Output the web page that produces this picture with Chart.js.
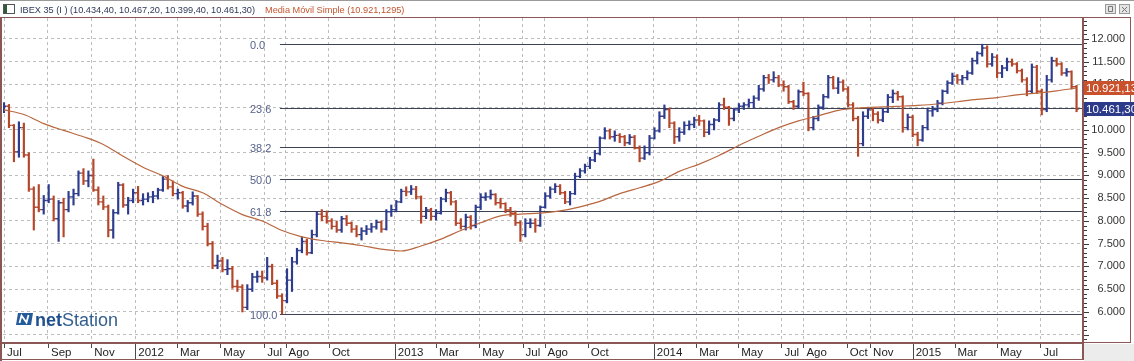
<!DOCTYPE html>
<html>
<head>
<meta charset="utf-8">
<script src="https://cdn.jsdelivr.net/npm/chart.js@4.4.0/dist/chart.umd.min.js"></script>
<style>
  html, body { margin: 0; padding: 0; background: #fff; }
  canvas { display: block; }
</style>
</head>
<body>
<canvas id="ibex" width="1134" height="361"></canvas>
<script>
// IBEX 35, weekly bars (week ending on Friday), first week ends 1 Jul 2011
const firstWeekEnd = '2011-07-01';

const opens = [
  10420,10520,10100,9520,10050,9450,8700,8300,8250,8450,
  8480,8050,8400,8250,8530,8600,9050,8880,9000,8680,
  8420,8310,7800,8180,8790,8350,8450,8620,8450,8480,
  8530,8550,8680,8920,8750,8600,8620,8330,8400,8550,
  8150,7880,7500,7020,7120,6930,6950,6560,6550,6100,
  6500,6770,6780,6750,7000,6630,6350,6250,6700,7100,
  7350,7550,7300,7700,8150,8100,8000,7880,7800,8050,
  7950,7820,7700,7780,7820,7870,7970,7820,8200,8250,
  8420,8650,8640,8700,8530,8100,8240,8100,8170,8480,
  8620,8420,7950,7880,8080,7900,8300,8520,8530,8580,
  8400,8380,8240,8170,7960,7700,7950,7950,7900,8300,
  8550,8700,8760,8620,8420,8600,8980,9100,9200,9340,
  9480,9820,9980,9850,9880,9850,9720,9840,9600,9380,
  9500,9820,9980,10300,10450,10150,9850,9950,10100,10120,
  10220,10200,9950,10120,10220,10550,10500,10250,10440,10520,
  10550,10600,10700,10900,11150,11100,11150,10990,10950,10620,
  10520,10840,10800,10050,10250,10500,10730,11150,10920,11050,
  10900,10550,10250,9700,10300,10440,10350,10220,10400,10720,
  10800,10730,10050,10280,9900,9780,10050,10420,10450,10590,
  10850,11030,11180,11100,11150,11250,11520,11680,11800,11450,
  11600,11250,11360,11500,11450,11300,11100,10850,11380,10850,
  10450,11100,11520,11450,11250,11280,10950
];
const highs = [
  10600,10560,10120,10180,10150,9500,8750,8800,8560,8800,
  8550,8450,8500,8650,8700,9100,9150,9100,9360,8750,
  8550,8350,8250,8850,8820,8520,8700,8760,8600,8620,
  8650,8720,8980,9000,8880,8700,8650,8450,8640,8560,
  8200,7950,7550,7250,7200,7150,7000,6700,6600,6600,
  6850,6900,6900,7200,7050,6700,6400,6950,7200,7400,
  7650,7600,7800,8200,8250,8220,8050,8000,8100,8120,
  7980,7900,7850,7900,7950,8020,8000,8250,8350,8450,
  8700,8750,8780,8760,8550,8300,8280,8250,8520,8700,
  8650,8450,8050,8150,8120,8350,8600,8620,8680,8600,
  8500,8400,8300,8220,8000,8050,8050,8050,8330,8620,
  8750,8820,8800,8650,8650,9050,9150,9250,9400,9550,
  9850,10050,10020,9980,9920,9880,9900,9880,9650,9650,
  9880,10050,10400,10550,10480,10180,10050,10180,10200,10280,
  10320,10220,10200,10250,10600,10700,10520,10480,10580,10600,
  10680,10750,10980,11200,11220,11280,11200,11080,10980,10650,
  10880,11050,10820,10300,10550,10780,11200,11180,11150,11100,
  10950,10600,10300,10400,10500,10480,10400,10480,10780,10880,
  10850,10750,10350,10320,9950,10100,10480,10520,10650,10880,
  11080,11250,11220,11200,11300,11580,11720,11884,11850,11680,
  11650,11420,11580,11560,11480,11340,11150,11450,11420,10900,
  11200,11600,11580,11480,11350,11300,10980
];
const lows = [
  10380,10050,9300,9400,9400,8650,7800,8200,8150,8400,
  8000,7550,7650,8200,8350,8550,8800,8750,8650,8350,
  8250,7650,7620,8150,8300,8150,8400,8400,8350,8420,
  8400,8480,8650,8700,8550,8480,8280,8200,8350,8100,
  7800,7450,6950,6950,6880,6820,6520,6450,6000,6050,
  6450,6650,6650,6700,6600,6300,5956,6200,6450,7050,
  7300,7250,7280,7650,8000,7950,7820,7750,7750,7900,
  7750,7650,7580,7700,7750,7820,7750,7800,8100,8200,
  8400,8550,8580,8480,7950,8050,8020,8020,8150,8420,
  8350,7900,7820,7800,7820,7850,8250,8450,8480,8350,
  8280,8180,8100,7900,7550,7650,7850,7750,7880,8280,
  8500,8620,8580,8380,8350,8580,8950,9050,9150,9300,
  9450,9800,9800,9750,9720,9650,9680,9580,9300,9350,
  9450,9800,9950,10250,10050,9700,9750,9900,10000,10050,
  10100,9850,9900,10000,10180,10450,10100,10200,10380,10450,
  10500,10480,10650,10850,11020,11050,10950,10850,10580,10450,
  10480,10750,9980,10000,10200,10450,10700,10900,10800,10850,
  10500,10200,9420,9650,10250,10200,10150,10180,10380,10600,
  10650,9950,10000,9850,9650,9750,10000,10300,10400,10550,
  10800,11000,11020,11000,11100,11220,11450,11620,11380,11400,
  11150,11150,11300,11400,11250,11050,10750,10800,10800,10330,
  10400,11050,11400,11200,11180,10900,10399.4
];
const closes = [
  10520,10100,9520,10050,9450,8700,8300,8250,8450,8480,
  8050,8400,8250,8530,8600,9050,8880,9000,8680,8420,
  8310,7800,8180,8790,8350,8450,8620,8450,8480,8530,
  8550,8680,8920,8750,8600,8620,8330,8400,8550,8150,
  7880,7500,7020,7120,6930,6950,6560,6550,6100,6500,
  6770,6780,6750,7000,6630,6350,6250,6700,7100,7350,
  7550,7300,7700,8150,8100,8000,7880,7800,8050,7950,
  7820,7700,7780,7820,7870,7970,7820,8200,8250,8420,
  8650,8640,8700,8530,8100,8240,8100,8170,8480,8620,
  8420,7950,7880,8080,7900,8300,8520,8530,8580,8400,
  8380,8240,8170,7960,7700,7950,7950,7900,8300,8550,
  8700,8760,8620,8420,8600,8980,9100,9200,9340,9480,
  9820,9980,9850,9880,9850,9720,9840,9600,9380,9500,
  9820,9980,10300,10450,10150,9850,9950,10100,10120,10220,
  10200,9950,10120,10220,10550,10500,10250,10440,10520,10550,
  10600,10700,10900,11150,11100,11150,10990,10950,10620,10520,
  10840,10800,10050,10250,10500,10730,11150,10920,11050,10900,
  10550,10250,9700,10300,10440,10350,10220,10400,10720,10800,
  10730,10050,10280,9900,9780,10050,10420,10450,10590,10850,
  11030,11180,11100,11150,11250,11520,11680,11800,11450,11600,
  11250,11360,11500,11450,11300,11100,10850,11380,10850,10450,
  11100,11520,11450,11250,11280,10950,10461.3
];

// 200 session simple moving average, read every 4 weeks
const smaWeeks = [
  0,4,8,12,16,20,24,28,32,36,40,44,48,52,56,60,64,68,72,76,
  80,84,88,92,96,100,104,108,112,116,120,124,128,132,136,140,144,148,152,156,
  160,164,168,172,176,180,184,188,192,196,200,204,208,212,216
];
const smaValues = [
  10440,10340,10140,9990,9850,9680,9420,9180,8990,8760,
  8620,8360,8140,8000,7790,7650,7570,7520,7460,7380,
  7340,7450,7600,7790,7960,8110,8150,8170,8220,8310,
  8430,8600,8730,8870,9090,9250,9440,9660,9860,10050,
  10200,10310,10430,10480,10500,10520,10540,10570,10620,10670,
  10710,10770,10810,10860,10921.13
];

// last daily bar (open, high, low, close) and last average, as in the header
const lastBar = [10434.40, 10467.20, 10399.40, 10461.30];
const lastSma = 10921.1295;

// Fibonacci retracement between the Jul 2012 low and the Apr 2015 high
const fibHigh = 11884;
const fibLow = 5956;
const fibStartDate = '2012-07-24';
const fibRatios = [0, 23.6, 38.2, 50, 61.8, 100];
const fibLabels = ['0.0', '23.6', '38.2', '50.0', '61.8', '100.0'];

const tickMonths = ['2011-07','2011-09','2011-11','2012-01','2012-03','2012-05','2012-07','2012-08','2012-10',
  '2013-01','2013-03','2013-05','2013-07','2013-08','2013-10','2014-01','2014-03','2014-05','2014-07',
  '2014-08','2014-10','2014-11','2015-01','2015-03','2015-05','2015-07'];
const tickLabels = ['Jul','Sep','Nov','2012','Mar','May','Jul','Ago','Oct','2013','Mar','May','Jul','Ago','Oct',
  '2014','Mar','May','Jul','Ago','Oct','Nov','2015','Mar','May','Jul'];
const yTicks = [5500,6000,6500,7000,7500,8000,8500,9000,9500,10000,10500,11000,11500,12000];

const UP = '#2e3c8e';
const DOWN = '#b4462a';
const SMA_COLOR = '#b9673f';
const FRAME = '#8a5656';
const GRID = '#bdbdbd';
const FONT = '"Liberation Sans", Arial, sans-serif';

const DAY = 864e5;
const t0 = Date.parse(firstWeekEnd);
const weekOf = t => (t - t0) / (7 * DAY);

// first session of each labelled month
function firstSession(m) {
  let t = Date.parse(m + '-01');
  for (;;) {
    const d = new Date(t);
    const wd = d.getUTCDay();
    if (wd === 0 || wd === 6 || (d.getUTCMonth() === 0 && d.getUTCDate() === 1)) t += DAY;
    else return weekOf(t);
  }
}
const tickPos = tickMonths.map(firstSession);

function num(v, dec) {
  const s = Math.abs(v).toFixed(dec);
  let [ip, fp] = s.split('.');
  ip = ip.replace(/\B(?=(\d{3})+(?!\d))/g, '.');
  return (v < 0 ? '-' : '') + ip + (fp ? ',' + fp : '');
}

const barColors = closes.map((c, i) => c >= opens[i] ? UP : DOWN);

const chartDecor = {
  id: 'chartDecor',
  beforeDraw(chart) {
    const ctx = chart.ctx;
    ctx.save();
    ctx.fillStyle = '#fff';
    ctx.fillRect(0, 0, chart.width, chart.height);
    ctx.restore();
  },
  beforeDatasetsDraw(chart) {
    const { ctx, chartArea: a, scales: { x, y } } = chart;
    const x0 = x.getPixelForValue(weekOf(Date.parse(fibStartDate)));
    ctx.save();
    fibRatios.forEach((r, k) => {
      const v = fibHigh - (fibHigh - fibLow) * r / 100;
      const yp = Math.round(y.getPixelForValue(v)) + 0.5;
      ctx.strokeStyle = '#3c4354';
      ctx.lineWidth = 1.2;
      ctx.beginPath();
      ctx.moveTo(x0, yp);
      ctx.lineTo(a.right, yp);
      ctx.stroke();
      ctx.fillStyle = '#56618a';
      ctx.font = '11px ' + FONT;
      ctx.textAlign = 'left';
      ctx.textBaseline = 'middle';
      ctx.fillText(fibLabels[k], x0 - 30, yp + 1);
    });
    ctx.restore();
  },
  afterDatasetsDraw(chart) {
    // open / close ticks of the bars
    const { ctx, chartArea: a, scales: { x, y } } = chart;
    ctx.save();
    ctx.beginPath();
    ctx.rect(a.left, a.top, a.right - a.left, a.bottom - a.top);
    ctx.clip();
    ctx.lineWidth = 1.4;
    closes.forEach((c, i) => {
      const xp = x.getPixelForValue(i);
      ctx.strokeStyle = barColors[i];
      ctx.beginPath();
      ctx.moveTo(xp - 2.5, y.getPixelForValue(opens[i]));
      ctx.lineTo(xp, y.getPixelForValue(opens[i]));
      ctx.moveTo(xp, y.getPixelForValue(c));
      ctx.lineTo(xp + 2.5, y.getPixelForValue(c));
      ctx.stroke();
    });
    ctx.restore();
  },
  afterDraw(chart) {
    const { ctx, chartArea: a, scales: { x, y } } = chart;
    const W = chart.width, H = chart.height;
    ctx.save();

    // header
    ctx.fillStyle = '#9a9a9a';
    ctx.fillRect(0, 0, W, 1);
    ctx.strokeStyle = '#555';
    ctx.lineWidth = 1;
    ctx.strokeRect(3.5, 4.5, 11, 9);
    ctx.fillStyle = '#2f5a3c';
    ctx.fillRect(4, 5, 3, 8);
    ctx.font = '9.2px ' + FONT;
    ctx.textBaseline = 'alphabetic';
    ctx.textAlign = 'left';
    ctx.fillStyle = '#2d3957';
    const head = 'IBEX 35 (I ) (' + lastBar.map(v => num(v, 2)).join(', ') + ')';
    ctx.fillText(head, 20, 12.5);
    const hw = ctx.measureText(head).width;
    ctx.fillStyle = '#c4562f';
    ctx.fillText('Media Móvil Simple (' + num(lastSma, 4) + ')', Math.max(265, 28 + hw), 12.5);

    // window buttons
    [1105, 1119].forEach((bx, k) => {
      ctx.fillStyle = '#e4e4e4';
      ctx.fillRect(bx, 4, 11, 10);
      ctx.strokeStyle = '#9a9a9a';
      ctx.strokeRect(bx + 0.5, 4.5, 10, 9);
      ctx.strokeStyle = '#777';
      ctx.beginPath();
      if (k === 0) { ctx.rect(bx + 3.5, 6.5, 4, 5); }
      else { ctx.moveTo(bx + 3, 7); ctx.lineTo(bx + 8, 12); ctx.moveTo(bx + 8, 7); ctx.lineTo(bx + 3, 12); }
      ctx.stroke();
    });

    // frame
    ctx.fillStyle = FRAME;
    ctx.fillRect(0, a.top - 1, 1131, 1);
    ctx.fillRect(0, a.top - 1, 2, H - a.top + 1);
    ctx.fillRect(0, a.bottom, a.right + 1, 2);
    ctx.fillRect(0, H - 2, a.right + 1, 1);
    ctx.fillRect(a.right, a.top - 1, 2, H - a.top);
    ctx.fillRect(1130, a.top - 1, 1, a.bottom - a.top + 2);
    ctx.fillRect(a.right, a.bottom, 1131 - a.right, 1);
    ctx.fillStyle = '#ececec';
    ctx.fillRect(a.right + 2, a.bottom + 2, W - a.right - 2, H - a.bottom - 2);

    // x axis tick marks, full height for the years
    ctx.fillStyle = '#4a4a4a';
    tickPos.forEach((v, k) => {
      const xp = Math.round(x.getPixelForValue(v));
      const full = /^\d{4}$/.test(tickLabels[k]);
      ctx.fillRect(xp, a.bottom + 2, 1, full ? H - a.bottom - 4 : 4);
    });

    // y axis minor ticks
    ctx.fillStyle = '#3a3a3a';
    for (let v = Math.ceil(y.min / 100) * 100; v <= y.max; v += 100) {
      const yp = Math.round(y.getPixelForValue(v));
      ctx.fillRect(a.right + 2, yp, v % 500 === 0 ? 5 : 3, 1);
    }

    // last value tags
    const tag = (v, bg, txt) => {
      const yp = Math.round(y.getPixelForValue(v));
      ctx.fillStyle = bg;
      ctx.fillRect(a.right + 2, yp - 7, W - a.right - 2, 14);
      ctx.fillStyle = '#fff';
      ctx.font = '11.5px ' + FONT;
      ctx.textBaseline = 'middle';
      ctx.textAlign = 'left';
      ctx.fillText(txt, a.right + 4, yp + 1);
    };
    tag(lastSma, '#c9512c', num(lastSma, 2));
    tag(lastBar[3], '#2c3a8a', num(lastBar[3], 2));

    // netStation mark
    ctx.fillStyle = '#235b9c';
    ctx.beginPath();
    ctx.moveTo(18, 313); ctx.lineTo(33, 313); ctx.lineTo(31, 325); ctx.lineTo(16, 325);
    ctx.closePath();
    ctx.fill();
    ctx.strokeStyle = '#fff';
    ctx.lineWidth = 1.8;
    ctx.beginPath();
    ctx.moveTo(19.5, 323); ctx.lineTo(21.5, 315.5); ctx.lineTo(26.5, 322.5); ctx.lineTo(28.5, 315);
    ctx.stroke();
    ctx.textBaseline = 'alphabetic';
    ctx.font = 'bold 18px ' + FONT;
    ctx.fillStyle = '#1f4f8d';
    ctx.fillText('net', 35, 326);
    const nw = ctx.measureText('net').width;
    ctx.font = '18px ' + FONT;
    ctx.fillStyle = '#34608f';
    ctx.fillText('Station', 35 + nw, 326);

    ctx.restore();
  }
};

new Chart(document.getElementById('ibex'), {
  type: 'bar',
  data: {
    datasets: [
      {
        type: 'line',
        data: smaWeeks.map((w, k) => ({ x: w, y: smaValues[k] })),
        borderColor: SMA_COLOR,
        borderWidth: 1.2,
        pointRadius: 0,
        cubicInterpolationMode: 'monotone',
        order: 1
      },
      {
        type: 'bar',
        data: closes.map((c, i) => ({ x: i, y: [lows[i], highs[i]] })),
        backgroundColor: barColors,
        barThickness: 1.5,
        grouped: false,
        order: 2
      }
    ]
  },
  options: {
    responsive: false,
    animation: false,
    events: [],
    layout: { padding: { left: 2, top: 18, right: 9, bottom: 0 } },
    plugins: { legend: { display: false }, tooltip: { enabled: false } },
    scales: {
      x: {
        type: 'linear',
        offset: false,
        min: -0.2,
        max: 217.1,
        afterBuildTicks: s => { s.ticks = tickPos.map(v => ({ value: v })); },
        afterFit: s => { s.height = 19; },
        grid: { color: GRID, drawTicks: false, offset: false },
        border: { display: false, dash: [3, 3] },
        ticks: {
          autoSkip: false, maxRotation: 0, align: 'start', labelOffset: 3, padding: 4,
          color: '#222', font: { family: FONT, size: 11.5 },
          callback: (v, i) => tickLabels[i]
        }
      },
      y: {
        position: 'right',
        min: 5340,
        max: 12460,
        afterBuildTicks: s => { s.ticks = yTicks.map(v => ({ value: v })); },
        afterFit: s => { s.width = 43; },
        grid: { color: GRID, drawTicks: false },
        border: { display: false, dash: [3, 3] },
        ticks: {
          crossAlign: 'far', padding: 1,
          color: '#333', font: { family: FONT, size: 11 },
          callback: v => v < 6000 ? '' : num(v, 0)
        }
      }
    }
  },
  plugins: [chartDecor]
});
</script>
</body>
</html>
